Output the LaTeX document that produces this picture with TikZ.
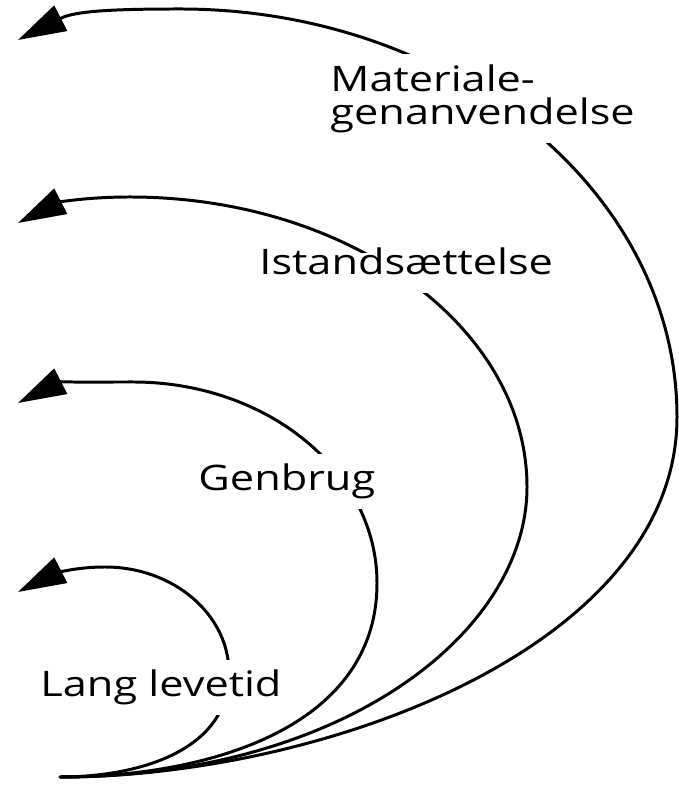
\documentclass[tikz,border=0pt]{standalone}
\usepackage{fontspec}
\setmainfont{Open Sans}[FakeStretch=1.23]
\usetikzlibrary{arrows.meta}

\begin{document}
\begin{tikzpicture}[x=0.01cm,y=0.01cm,line width=0.85pt,line cap=round,
    ret/.style={-{Triangle[length=4.8mm,width=2.8mm]}},
    lbl/.style={fill=white,inner xsep=0pt,inner ysep=1mm,
      font=\fontsize{10}{9.4}\selectfont,align=left}]
   \useasboundingbox (0,0) rectangle (679,788);

   % common start and the four arrow tips
   \coordinate (src)  at (60,11);
   \coordinate (tip1) at (18,196);
   \coordinate (tip2) at (18,385);
   \coordinate (tip3) at (18,565);
   \coordinate (tip4) at (18,748);
   % rightmost and top points of each loop
   \coordinate (r1) at (229,115); \coordinate (t1) at (105,221);
   \coordinate (r2) at (377,205); \coordinate (t2) at (133,406);
   \coordinate (r3) at (527,301); \coordinate (t3) at (130,591);
   \coordinate (r4) at (677,371); \coordinate (t4) at (180,779);

   \draw[ret] (src) .. controls +(78,0) and +(0,-78) .. (r1)
      .. controls +(0,58.5) and +(68.5,0) .. (t1) to[out=180,in=27] (tip1);
   \draw[ret] (src) .. controls +(146,0) and +(0,-146) .. (r2)
      .. controls +(0,111) and +(135,0) .. (t2) to[out=180,in=27] (tip2);
   \draw[ret] (src) .. controls +(284,0) and +(0,-145) .. (r3)
      .. controls +(0,160) and +(219,0) .. (t3) to[out=180,in=27] (tip3);
   \draw[ret] (src) .. controls +(265,0) and +(0,-229) .. (r4)
      .. controls +(0,225) and +(274,0) .. (t4) to[out=180,in=27] (tip4);

   \node[lbl,anchor=base west] (lang) at (39,91) {Lang levetid};
   \node[lbl,anchor=base west] (genbrug) at (197,297) {Genbrug};
   % thinner box so the loop reaches the letters
   \node[lbl,anchor=base west,text height=1.2mm,text depth=0.8mm] (istand) at (258,513) {Istandsættelse};
   \node[lbl,anchor=north west] (materiale) at (329,735) {Materiale-\\genanvendelse};
\end{tikzpicture}
\end{document}
